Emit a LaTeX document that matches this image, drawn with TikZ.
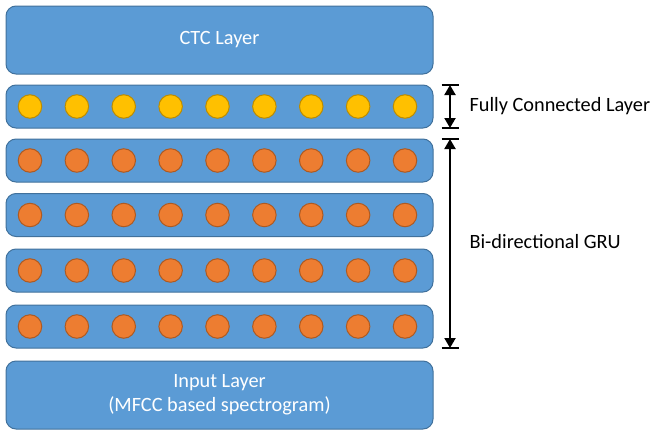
\documentclass[tikz,border=0pt]{standalone}
\usepackage{fontspec}
\setmainfont{Carlito}
\usetikzlibrary{arrows.meta}
\definecolor{boxblue}{RGB}{91,155,213}
\definecolor{boxline}{RGB}{65,113,156}
\definecolor{fcyellow}{RGB}{255,192,0}
\definecolor{fcline}{RGB}{188,140,0}
\definecolor{gruorange}{RGB}{237,125,49}
\definecolor{gruline}{RGB}{174,90,33}
\tikzset{
  layer/.style={draw=boxline, line width=1pt, fill=boxblue, rounded corners=10pt,
    minimum width=427pt, inner sep=0pt, text=white, align=center,
    font=\fontsize{20.3}{24}\selectfont},
  thinlayer/.style={layer, minimum height=43pt},
  thicklayer/.style={layer, minimum height=68pt},
  unit/.style={circle, line width=1pt, minimum size=23.5pt, inner sep=0pt},
  dim/.style={line width=2pt, {Triangle[width=11pt,length=10pt]}-{Triangle[width=11pt,length=10pt]}},
  tick/.style={line width=2.5pt},
  note/.style={anchor=west, font=\fontsize{20.3}{24}\selectfont}
}
\begin{document}
\begin{tikzpicture}[x=1pt,y=-1pt]
\useasboundingbox (0,0) rectangle (655,439);

% layers
\node[thicklayer] (ctc) at (219.5,40) {CTC Layer};
\node[thinlayer] (fc) at (219.5,106.5) {};
\node[thinlayer] (gru1) at (219.5,160.5) {};
\node[thinlayer] (gru2) at (219.5,215) {};
\node[thinlayer] (gru3) at (219.5,270.5) {};
\node[thinlayer] (gru4) at (219.5,326.5) {};
\node[thicklayer] (input) at (219.5,395) {Input Layer\\(MFCC based spectrogram)};

% units
\foreach \i in {0,...,8} {
  \node[unit, draw=fcline, fill=fcyellow] (fc-\i) at (30+46.875*\i,106.5) {};
  \foreach \r/\y in {1/160.5,2/215,3/270.5,4/326.5}
    \node[unit, draw=gruline, fill=gruorange] (gru\r-\i) at (30+46.875*\i,\y) {};
}

% dimension marks
\coordinate (fctop) at (450,85);
\coordinate (fcbot) at (450,128);
\coordinate (grutop) at (450,139);
\coordinate (grubot) at (450,348);
\draw[dim] (fctop) -- (fcbot);
\draw[dim] (grutop) -- (grubot);
\foreach \c in {fctop,fcbot,grutop,grubot}
  \draw[tick] ([xshift=-8.5]\c) -- ([xshift=8.5]\c);

\node[note] (fclabel) at (466,106.5) {Fully Connected Layer};
\node[note] (grulabel) at (466,242) {Bi-directional GRU};
\end{tikzpicture}
\end{document}
